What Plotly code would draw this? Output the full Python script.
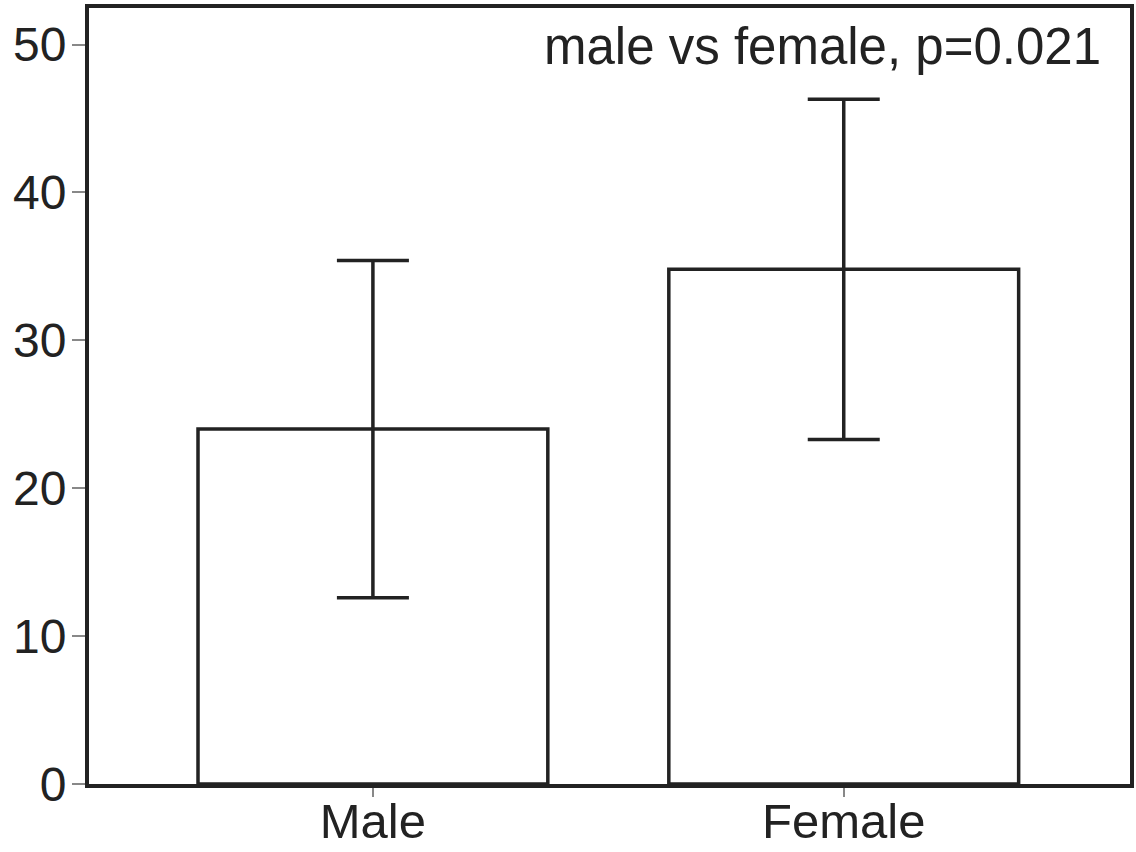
import plotly.graph_objects as go

categories = ["Male", "Female"]
means = [24.0, 34.8]
errors = [11.4, 11.5]
y_ticks = [0, 10, 20, 30, 40, 50]
annotation_text = "male vs female, p=0.021"

INK = "#222222"
FONT = "Liberation Sans, Arial, sans-serif"

fig = go.Figure()
fig.add_trace(go.Bar(
    x=list(range(len(categories))),
    y=means,
    width=0.743,
    marker=dict(color="white", line=dict(color=INK, width=3.5)),
    error_y=dict(type="data", array=errors, visible=True,
                 color=INK, thickness=3.5, width=36),
    showlegend=False,
    hoverinfo="skip",
))

fig.update_layout(
    width=1136, height=852,
    margin=dict(l=89, r=6, t=8, b=68),
    paper_bgcolor="white", plot_bgcolor="white",
    font=dict(family=FONT, size=48, color=INK),
    xaxis=dict(
        range=[-0.603, 1.608],
        tickmode="array",
        tickvals=list(range(len(categories))),
        ticktext=categories,
        showgrid=False, zeroline=False, automargin=False,
        showline=True, mirror=True, linecolor=INK, linewidth=4,
        ticks="outside", ticklen=9, tickwidth=2, tickcolor="#888888",
        ticklabelstandoff=-18,
        tickfont=dict(size=49, color=INK),
    ),
    yaxis=dict(
        range=[0, 52.47],
        tickmode="array",
        tickvals=y_ticks,
        ticktext=[str(v) for v in y_ticks],
        showgrid=False, zeroline=False, automargin=False,
        showline=True, mirror=True, linecolor=INK, linewidth=4,
        ticks="outside", ticklen=13, tickwidth=2, tickcolor="#888888",
        ticklabelstandoff=-4,
        tickfont=dict(size=48, color=INK),
    ),
    annotations=[dict(
        text=annotation_text,
        xref="paper", yref="paper",
        x=0.9738, y=0.9897,
        xanchor="right", yanchor="top",
        showarrow=False,
        font=dict(family=FONT, size=51, color=INK),
    )],
)

fig.write_html("out.html",
               config={"displayModeBar": False, "staticPlot": True},
               post_script="document.body.style.margin='0';document.body.style.overflow='hidden';")
